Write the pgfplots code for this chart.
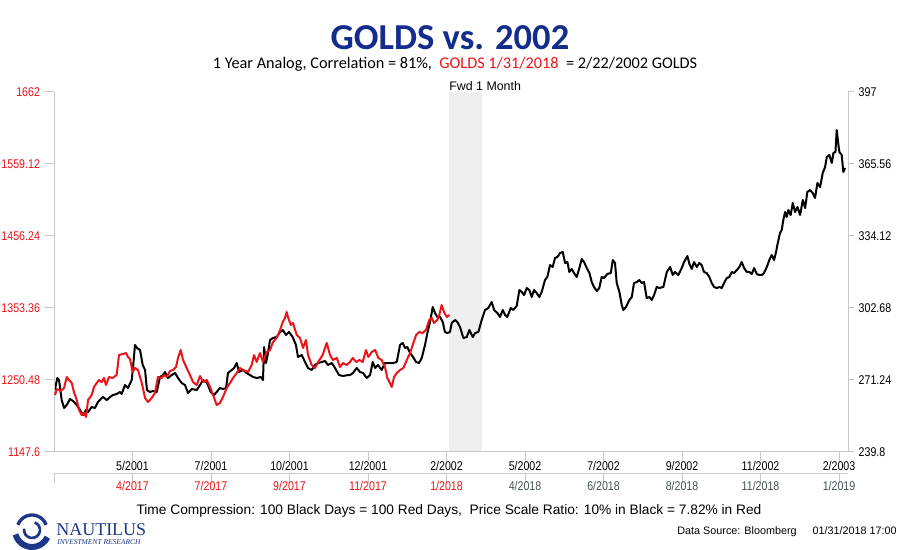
\documentclass[border=0pt]{standalone}
\usepackage{fontspec}
\setmainfont{Liberation Sans}
\newfontfamily\carlito{Carlito}
\newfontfamily\narrow[FakeStretch=0.84]{Liberation Sans}
\newfontfamily\nautserif{Liberation Serif}
\usepackage{pgfplots}
\pgfplotsset{compat=1.18}
\usepackage{pgfplotstable}
\definecolor{redline}{RGB}{235,20,25}
\definecolor{titleblue}{RGB}{20,45,140}
\definecolor{axisgray}{RGB}{200,200,200}
\definecolor{lategray}{RGB}{70,82,82}
\definecolor{bandgray}{RGB}{239,239,239}
\definecolor{navy}{RGB}{28,55,135}

% black series: trading day index, GOLDS 2001-2003 (right axis)
\pgfplotstableread{
d v
0.6 266.87
2.1 272.11
3.2 271.24
4.9 262.50
6.4 259.01
8.1 260.32
10.2 262.94
12.1 262.07
14.5 260.32
16.6 258.14
18.5 255.95
20.4 258.14
21.7 257.26
24.0 259.45
26.1 259.01
28.0 261.63
30.4 263.37
31.2 263.81
33.6 262.50
35.7 263.81
37.6 264.69
39.9 265.12
42.0 266.00
43.1 265.12
45.2 269.05
47.1 267.74
49.5 271.24
50.3 276.48
51.6 286.52
52.9 285.21
54.8 284.34
56.5 277.79
58.0 275.60
59.2 266.87
61.1 266.00
63.1 266.43
65.4 266.00
67.5 272.55
69.4 273.42
70.7 274.73
72.6 272.11
75.0 273.42
77.1 274.29
79.0 272.11
81.3 269.93
83.4 269.05
85.4 265.56
87.7 267.31
90.9 266.87
93.0 269.05
94.9 271.24
97.5 269.93
99.8 266.00
101.9 264.69
103.6 266.00
105.7 267.74
107.6 267.31
109.6 267.74
110.8 274.29
113.2 275.60
114.7 276.48
116.4 278.66
117.8 274.73
120.4 275.60
122.7 274.29
124.8 273.42
126.8 272.55
129.3 272.11
131.7 272.55
133.1 271.24
133.8 285.65
135.0 278.66
136.3 283.03
137.6 288.70
139.5 289.58
141.8 290.01
144.0 292.20
145.7 293.07
147.8 290.89
149.7 292.20
152.0 290.01
154.1 286.52
155.4 281.28
157.8 282.15
159.9 279.10
161.8 276.48
164.1 275.60
166.2 277.79
168.2 278.66
170.5 279.10
172.6 279.53
174.5 277.79
176.9 278.66
179.0 276.48
181.5 273.42
184.1 272.98
187.3 273.42
188.5 273.42
190.4 274.29
192.8 276.48
194.9 274.73
196.8 274.29
199.2 272.11
201.3 273.42
203.0 279.10
204.5 276.48
206.4 277.79
208.7 275.60
210.8 278.66
212.7 278.66
215.9 278.66
218.3 279.10
220.4 286.52
222.1 287.39
223.6 285.21
225.0 285.65
226.8 283.03
228.7 281.28
230.6 279.10
232.5 278.66
234.2 280.84
236.3 286.52
237.8 291.76
239.5 296.56
241.2 303.11
242.7 300.49
244.1 298.75
245.9 298.75
247.6 296.56
249.0 292.20
250.5 291.76
252.2 292.20
253.3 296.13
255.4 297.44
256.9 296.56
258.6 294.38
260.7 289.58
262.9 290.01
264.5 293.07
266.7 290.01
268.2 291.76
270.3 292.20
272.4 297.44
274.5 301.80
276.6 302.68
278.8 305.30
280.3 301.80
282.4 300.49
284.1 298.75
285.8 301.80
287.3 299.62
288.7 298.75
290.9 302.68
292.5 301.80
294.7 303.55
296.4 310.54
297.9 309.66
299.4 308.35
301.1 311.41
302.7 310.54
304.3 307.48
305.7 310.54
307.4 309.23
309.1 307.48
310.6 309.66
312.7 314.90
314.2 316.21
315.9 321.45
317.6 320.58
319.1 324.51
320.6 324.95
322.3 326.69
324.0 327.13
325.5 322.33
327.0 322.76
328.2 318.40
329.7 319.71
331.2 317.96
332.9 316.21
334.6 320.14
336.1 324.07
337.6 322.76
339.3 320.14
341.0 317.96
342.5 314.03
343.9 311.85
345.7 310.10
347.3 311.41
348.8 316.21
350.3 315.78
352.4 317.52
354.6 317.96
355.9 323.64
357.3 322.33
358.4 313.59
360.1 309.66
361.6 303.99
362.6 301.80
364.3 303.11
366.4 306.17
368.0 307.48
369.4 313.59
371.2 314.03
372.8 314.90
374.3 313.59
375.8 314.03
377.5 307.04
379.2 307.48
380.7 306.17
382.2 308.35
383.9 311.85
385.5 311.41
388.1 311.85
390.3 318.40
392.4 320.58
394.1 317.09
395.5 318.40
397.6 317.09
399.8 320.14
401.3 322.76
403.4 325.38
404.7 321.89
406.2 319.71
407.6 322.76
409.4 320.58
411.0 322.33
412.5 321.45
414.0 318.40
415.7 317.96
417.4 316.21
418.9 313.59
420.4 311.85
422.1 311.41
423.8 311.85
425.3 311.41
426.8 313.59
428.5 315.78
430.1 316.21
431.7 318.40
433.1 317.96
434.9 319.27
436.5 320.58
438.0 322.76
439.5 320.14
441.2 318.40
442.9 318.40
444.4 317.52
445.9 320.14
447.6 317.52
449.2 317.09
450.8 317.09
452.2 317.96
454.0 320.58
455.6 323.64
457.1 325.82
458.6 323.64
459.9 327.13
460.7 330.19
462.4 335.43
463.5 336.74
464.5 341.10
465.6 344.60
466.7 342.41
467.7 345.47
469.2 343.29
470.5 348.53
472.0 344.60
473.5 346.78
475.2 343.29
476.9 349.84
478.4 346.34
479.8 353.33
481.5 354.20
483.2 352.89
484.7 350.71
486.2 357.26
487.9 355.51
489.6 361.63
491.1 364.25
492.2 368.61
493.8 369.49
495.4 365.99
496.4 370.36
497.7 370.80
498.5 380.40
499.6 373.85
500.2 370.80
501.7 369.49
502.7 362.06
503.8 363.81
}\blackdata

% red series: trading day index, GOLDS 2017-2018 (left axis)
\pgfplotstableread{
d v
0.6 1229.05
1.9 1237.62
4.3 1234.76
6.4 1239.05
8.1 1254.77
9.6 1250.48
11.3 1246.20
12.7 1233.33
14.5 1221.90
15.9 1207.62
17.6 1200.47
19.1 1203.33
20.4 1197.61
21.7 1221.90
24.0 1229.05
25.5 1240.48
27.2 1246.20
28.7 1250.48
30.4 1247.62
31.8 1253.34
33.1 1243.34
35.0 1254.77
37.4 1253.34
39.9 1257.63
41.4 1286.20
43.9 1287.63
45.9 1289.06
47.1 1283.35
48.4 1280.49
50.1 1261.91
51.6 1267.63
53.5 1264.77
55.9 1246.20
58.0 1224.76
59.9 1219.05
62.2 1224.76
64.3 1231.91
66.2 1254.77
68.6 1253.34
70.1 1257.63
71.8 1254.77
73.9 1263.34
75.8 1264.77
77.7 1269.06
79.0 1281.92
80.7 1293.35
82.2 1279.06
84.5 1267.63
86.6 1257.63
88.5 1247.62
90.9 1243.34
93.0 1256.20
94.9 1247.62
97.3 1250.48
99.4 1240.48
101.3 1229.05
103.6 1214.76
105.7 1217.62
107.6 1226.19
110.0 1239.05
112.1 1246.20
114.0 1253.34
116.4 1260.48
118.5 1267.63
120.4 1264.77
123.6 1261.91
125.9 1271.92
127.4 1286.20
129.1 1276.20
131.2 1289.06
133.1 1276.20
135.5 1290.49
137.6 1293.35
139.5 1304.78
141.8 1310.50
144.0 1321.93
145.7 1333.36
147.1 1339.07
148.2 1347.65
149.0 1340.50
150.8 1329.07
152.2 1331.93
154.6 1314.78
156.7 1310.50
158.6 1296.21
160.5 1307.64
161.8 1286.20
164.1 1271.92
166.2 1267.63
168.2 1276.20
171.1 1286.20
173.7 1303.35
175.8 1286.20
177.7 1279.06
180.1 1281.92
182.2 1269.06
184.1 1274.77
186.4 1271.92
188.5 1276.20
190.3 1281.92
192.4 1276.20
194.5 1279.06
196.6 1276.20
198.7 1293.35
200.2 1283.35
202.4 1290.49
204.5 1293.35
206.6 1281.92
208.7 1279.06
210.8 1269.06
212.3 1253.34
214.0 1246.20
215.1 1240.48
216.6 1254.77
218.3 1260.48
220.4 1264.77
222.5 1267.63
224.7 1279.06
226.8 1289.06
228.9 1303.35
230.6 1314.78
232.7 1319.07
234.8 1317.64
236.9 1321.93
239.0 1336.22
240.6 1339.07
242.0 1331.93
244.1 1336.22
245.4 1343.36
246.9 1357.65
248.4 1347.65
250.2 1340.50
251.8 1343.36
}\reddata

\begin{document}
\begin{tikzpicture}[x=0.75pt,y=0.75pt]
\useasboundingbox (0,0) rectangle (900,550);

% ---- black series, right axis ----
\begin{axis}[
  at={(40.5pt,73.5pt)}, anchor=south west,
  width=595.5pt, height=270pt, scale only axis,
  xmin=0, xmax=505.7, ymin=239.8, ymax=397,
  hide x axis, axis y line*=right,
  y axis line style={axisgray, line width=0.75pt, -},
  ytick={239.8,271.24,302.68,334.12,365.56,397},
  yticklabels={239.8,271.24,302.68,334.12,365.56,397},
  ytick style={axisgray, line width=0.75pt},
  tick align=outside, major tick length=4.5pt,
  yticklabel style={font=\narrow\fontsize{9.5}{11}\selectfont, text=black},
  clip=false,
]
\fill[bandgray] (axis cs:251.6,239.8) rectangle (axis cs:272.6,397);
\node[anchor=south west, inner sep=0pt, font=\fontsize{9.3}{11}\selectfont] at (axis cs:251.6,397.4) {Fwd 1 Month};
\addplot[black, line width=1.5pt, line join=round] table {\blackdata};
\end{axis}

% ---- red series, left axis, first date row ----
\begin{axis}[
  at={(40.5pt,73.5pt)}, anchor=south west,
  width=595.5pt, height=270pt, scale only axis,
  xmin=0, xmax=505.7, ymin=1147.6, ymax=1662,
  axis x line*=bottom, axis y line*=left,
  axis line style={axisgray, line width=0.75pt, -},
  tick style={axisgray, line width=0.75pt},
  tick align=outside, major tick length=7pt,
  ytick={1147.6,1250.48,1353.36,1456.24,1559.12,1662},
  yticklabels={1147.6,1250.48,1353.36,1456.24,1559.12,1662},
  yticklabel style={font=\narrow\fontsize{9.5}{11}\selectfont, text=redline},
  xtick={50,100,...,500},
  xticklabels={5/2001,7/2001,10/2001,12/2001,2/2002,5/2002,7/2002,9/2002,11/2002,2/2003},
  xticklabel style={font=\narrow\fontsize{9.5}{11}\selectfont, text=black, yshift=3.75pt},
  clip=false,
]
\addplot[redline, line width=1.5pt, line join=round] table {\reddata};
\end{axis}

% ---- second date row ----
\begin{axis}[
  at={(40.5pt,57pt)}, anchor=south west,
  width=595.5pt, height=0.75pt, scale only axis,
  xmin=0, xmax=505.7, ymin=0, ymax=1,
  hide y axis, axis x line*=bottom,
  x axis line style={axisgray, line width=0.75pt, -},
  xtick style={axisgray, line width=0.75pt},
  tick align=outside, major tick length=7pt,
  xtick={0,50,100,...,500},
  xticklabels={,\textcolor{redline}{4/2017},\textcolor{redline}{7/2017},\textcolor{redline}{9/2017},\textcolor{redline}{11/2017},\textcolor{redline}{1/2018},\textcolor{lategray}{4/2018},\textcolor{lategray}{6/2018},\textcolor{lategray}{8/2018},\textcolor{lategray}{11/2018},\textcolor{lategray}{1/2019}},
  xticklabel style={font=\narrow\fontsize{9.5}{11}\selectfont, yshift=5.25pt},
]
\end{axis}

% ---- titles ----
\node[anchor=base, inner sep=0pt, text=titleblue, font=\carlito\bfseries\fontsize{27.4}{30}\selectfont] at (450,500) {GOLDS vs. 2002};
\node[anchor=base, inner sep=0pt, font=\carlito\fontsize{12.2}{14}\selectfont] at (455,481) {1 Year Analog, Correlation = 81\%,\ \ \textcolor{redline}{GOLDS 1/31/2018}\ \ = 2/22/2002 GOLDS};

% ---- footer ----
\node[anchor=base, inner sep=0pt, font=\fontsize{10.3}{12}\selectfont] at (449,36) {Time Compression: 100 Black Days = 100 Red Days,\ \ Price Scale Ratio: 10\% in Black = 7.82\% in Red};
\node[anchor=base east, inner sep=0pt, font=\fontsize{8.1}{9}\selectfont] at (897,15) {Data Source: Bloomberg\hspace{12pt}01/31/2018 17:00};

% ---- logo ----
\draw[navy, line width=4.5] ([shift={(32,20)}]195:17) arc (195:335:17);
\draw[navy, line width=2.5] ([shift={(32,20)}]20:15) arc (20:160:15);
\draw[navy, line width=2] ([shift={(32,20)}]170:8) arc (170:430:8);
\node[anchor=base west, inner sep=0pt, text=navy, font=\nautserif\fontsize{13.5}{15}\selectfont] at (56,14.5) {NAUTILUS};
\node[anchor=base west, inner sep=0pt, text=navy, font=\nautserif\itshape\fontsize{5.6}{6}\selectfont] at (57,5) {INVESTMENT RESEARCH};
\end{tikzpicture}
\end{document}
